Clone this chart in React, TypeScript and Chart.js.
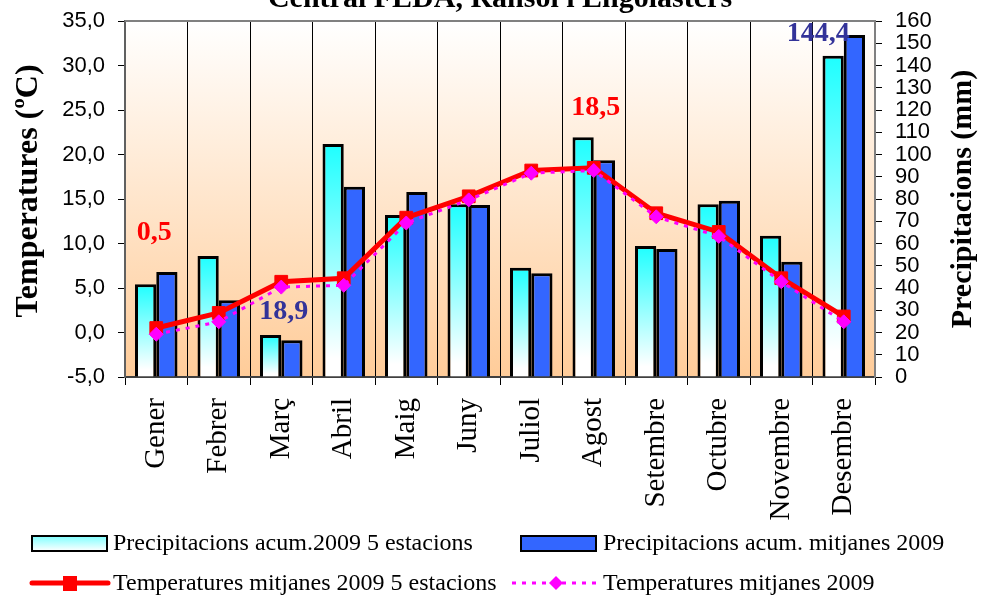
import React, { useEffect, useRef } from 'react';
import { Chart, registerables } from 'chart.js';

Chart.register(...registerables);

const titleText = 'Central FEDA, Ransol i Engolasters';
const leftAxisTitle = 'Temperatures (ºC)';
const rightAxisTitle = 'Precipitacions (mm)';

const months = ['Gener', 'Febrer', 'Març', 'Abril', 'Maig', 'Juny', 'Juliol', 'Agost', 'Setembre', 'Octubre', 'Novembre', 'Desembre'];
const precip5Stations = [41.7, 54.4, 18.9, 104.7, 72.8, 77.6, 49.1, 107.7, 58.9, 77.6, 63.5, 144.4];
const precipMean = [47.2, 34.5, 16.5, 85.5, 83.1, 77.3, 46.6, 97.4, 57.5, 79.2, 51.8, 153.7];
const temp5Stations = [0.5, 2.2, 5.7, 6.1, 12.9, 15.3, 18.2, 18.5, 13.4, 11.3, 6.1, 1.8];
const tempMean = [-0.2, 1.2, 5.1, 5.3, 12.3, 14.9, 17.9, 18.2, 13.0, 10.8, 5.7, 1.2];

const seriesNames = [
  'Precipitacions acum.2009 5 estacions',
  'Precipitacions acum. mitjanes 2009',
  'Temperatures mitjanes 2009 5 estacions',
  'Temperatures mitjanes 2009',
];

const CYAN = '#1EFFFF';
const BLUE = '#3366FF';
const RED = '#FF0000';
const MAGENTA = '#FF00FF';
const SERIF = '"Liberation Serif", "Times New Roman", serif';
const SANS = '"Liberation Sans", Arial, sans-serif';

// annotation labels: which dataset/index, offsets in px
const valueLabels = [
  { ds: 2, idx: 0, dx: -2, dy: -95, color: RED },
  { ds: 0, idx: 2, dx: 13, dy: -23, color: '#333399' },
  { ds: 2, idx: 7, dx: 2, dy: -60, color: RED },
  { ds: 0, idx: 11, dx: -15, dy: -22, color: '#333399' },
];

const fmt = (v: number) => v.toFixed(1).replace('.', ',');

const noPad = (s: any, w: number) => {
  s.width = w;
  s.paddingTop = 0;
  s.paddingBottom = 0;
};

const decorPlugin = {
  id: 'decor',
  beforeDraw(chart: any) {
    const { ctx, chartArea: a } = chart;
    ctx.save();
    ctx.fillStyle = '#FFFFFF';
    ctx.fillRect(0, 0, chart.width, chart.height);
    const g = ctx.createLinearGradient(0, a.top, 0, a.bottom);
    g.addColorStop(0, '#FFFFFF');
    g.addColorStop(1, '#FFCC99');
    ctx.fillStyle = g;
    ctx.fillRect(a.left, a.top, a.right - a.left, a.bottom - a.top);
    ctx.restore();
  },
  afterDatasetsDraw(chart: any) {
    const { ctx } = chart;
    ctx.save();
    ctx.font = `bold 28px ${SERIF}`;
    ctx.textAlign = 'center';
    ctx.textBaseline = 'middle';
    valueLabels.forEach((l) => {
      const el = chart.getDatasetMeta(l.ds).data[l.idx];
      const v = chart.data.datasets[l.ds].data[l.idx] as number;
      ctx.fillStyle = l.color;
      ctx.fillText(fmt(v), el.x + l.dx, el.y + l.dy);
    });
    ctx.restore();
  },
  afterDraw(chart: any) {
    const { ctx, chartArea: a } = chart;
    ctx.save();
    ctx.strokeStyle = '#808080';
    ctx.lineWidth = 2;
    ctx.beginPath();
    ctx.moveTo(a.left, a.top);
    ctx.lineTo(a.right, a.top);
    ctx.stroke();

    ctx.fillStyle = '#000';
    ctx.font = `bold 30px ${SERIF}`;
    ctx.textAlign = 'center';
    ctx.textBaseline = 'alphabetic';
    ctx.fillText(titleText, (a.left + a.right) / 2, 7);

    ctx.textBaseline = 'middle';
    ctx.save();
    ctx.font = `bold 32px ${SERIF}`;
    ctx.translate(29, 191);
    ctx.rotate(-Math.PI / 2);
    ctx.fillText(leftAxisTitle, 0, 0);
    ctx.restore();
    ctx.save();
    ctx.font = `bold 30px ${SERIF}`;
    ctx.translate(963, 199);
    ctx.rotate(-Math.PI / 2);
    ctx.fillText(rightAxisTitle, 0, 0);
    ctx.restore();

    ctx.font = `24px ${SERIF}`;
    ctx.textAlign = 'left';
    ctx.textBaseline = 'middle';
    const r1 = 543;
    const r2 = 583;
    const lg = ctx.createLinearGradient(0, r1 - 7, 0, r1 + 8);
    lg.addColorStop(0, '#7FFFFF');
    lg.addColorStop(1, '#FFFFFF');
    ctx.fillStyle = lg;
    ctx.fillRect(32, r1 - 7, 75, 15);
    ctx.strokeStyle = '#000';
    ctx.lineWidth = 2;
    ctx.strokeRect(32, r1 - 7, 75, 15);
    ctx.fillStyle = '#000';
    ctx.fillText(seriesNames[0], 113, r1 + 1);
    ctx.fillStyle = BLUE;
    ctx.fillRect(521, r1 - 7, 75, 15);
    ctx.strokeRect(521, r1 - 7, 75, 15);
    ctx.fillStyle = '#000';
    ctx.fillText(seriesNames[1], 603, r1 + 1);
    ctx.strokeStyle = RED;
    ctx.lineWidth = 5;
    ctx.lineCap = 'round';
    ctx.beginPath();
    ctx.moveTo(32, r2);
    ctx.lineTo(108, r2);
    ctx.stroke();
    ctx.fillStyle = RED;
    ctx.fillRect(63, r2 - 7, 14, 15);
    ctx.fillStyle = '#000';
    ctx.fillText(seriesNames[2], 113, r2 + 1);
    ctx.strokeStyle = MAGENTA;
    ctx.lineWidth = 3;
    ctx.lineCap = 'butt';
    ctx.setLineDash([4, 6]);
    ctx.beginPath();
    ctx.moveTo(512, r2);
    ctx.lineTo(598, r2);
    ctx.stroke();
    ctx.setLineDash([]);
    ctx.fillStyle = MAGENTA;
    ctx.beginPath();
    ctx.moveTo(556, r2 - 7);
    ctx.lineTo(563, r2);
    ctx.lineTo(556, r2 + 7);
    ctx.lineTo(549, r2);
    ctx.closePath();
    ctx.fill();
    ctx.fillStyle = '#000';
    ctx.fillText(seriesNames[3], 603, r2 + 1);
    ctx.restore();
  },
};

export default function App() {
  const ref = useRef<HTMLCanvasElement>(null);

  useEffect(() => {
    const canvas = ref.current;
    if (!canvas) return;
    const chart = new Chart(canvas, {
      type: 'bar',
      data: {
        labels: months,
        datasets: [
          {
            type: 'bar',
            label: seriesNames[0],
            data: precip5Stations,
            yAxisID: 'y2',
            order: 3,
            borderColor: '#000',
            borderWidth: 3,
            backgroundColor: (c: any) => {
              const chart = c.chart;
              if (!chart.chartArea || c.type !== 'data' || !chart.scales.y2) return CYAN;
              const s = chart.scales.y2;
              const top = s.getPixelForValue(c.raw as number);
              const base = s.getPixelForValue(0);
              if (!isFinite(top) || !isFinite(base) || top === base) return CYAN;
              const g = chart.ctx.createLinearGradient(0, top, 0, base);
              g.addColorStop(0, CYAN);
              g.addColorStop(0.92, '#FFFFFF');
              g.addColorStop(1, '#FFFFFF');
              return g;
            },
            categoryPercentage: 0.68,
            barPercentage: 1,
          } as any,
          {
            type: 'bar',
            label: seriesNames[1],
            data: precipMean,
            yAxisID: 'y2',
            order: 4,
            borderColor: '#000',
            borderWidth: 3,
            backgroundColor: BLUE,
            categoryPercentage: 0.68,
            barPercentage: 1,
          } as any,
          {
            type: 'line',
            label: seriesNames[2],
            data: temp5Stations,
            yAxisID: 'y',
            order: 2,
            borderColor: RED,
            borderWidth: 5,
            backgroundColor: RED,
            pointStyle: 'rect',
            pointRadius: 9,
            pointBorderWidth: 1,
            pointBorderColor: RED,
            pointBackgroundColor: RED,
            tension: 0,
            fill: false,
          } as any,
          {
            type: 'line',
            label: seriesNames[3],
            data: tempMean,
            yAxisID: 'y',
            order: 1,
            borderColor: MAGENTA,
            borderWidth: 3,
            borderDash: [4, 6],
            backgroundColor: MAGENTA,
            pointStyle: 'rectRot',
            pointRadius: 7,
            pointBorderWidth: 1,
            pointBorderColor: MAGENTA,
            pointBackgroundColor: MAGENTA,
            tension: 0,
            fill: false,
          } as any,
        ],
      },
      options: {
        responsive: false,
        animation: false,
        devicePixelRatio: 1,
        layout: { padding: { top: 21, left: 0, right: 0, bottom: 0 } },
        plugins: {
          legend: { display: false },
          title: { display: false },
          tooltip: { enabled: false },
        },
        scales: {
          x: {
            offset: true,
            grid: {
              offset: true,
              color: '#000',
              lineWidth: 1,
              drawOnChartArea: true,
              drawTicks: true,
              tickLength: 8,
            },
            border: { display: true, color: '#404040', width: 2 },
            ticks: {
              autoSkip: false,
              minRotation: 90,
              maxRotation: 90,
              padding: 13,
              color: '#000',
              font: { family: SERIF, size: 29 },
            },
            afterFit: (s: any) => {
              s.height = 220;
              s.paddingLeft = 0;
              s.paddingRight = 0;
            },
          },
          y: {
            position: 'left',
            min: -5,
            max: 35,
            grid: { drawOnChartArea: false, drawTicks: true, tickLength: 7, color: '#000' },
            border: { display: true, color: '#606060', width: 2 },
            ticks: {
              stepSize: 5,
              autoSkip: false,
              padding: 13,
              color: '#000',
              font: { family: SANS, size: 22 },
              callback: (v: any) => fmt(Number(v)),
            },
            afterFit: (s: any) => noPad(s, 125),
          },
          y2: {
            position: 'right',
            min: 0,
            max: 160,
            grid: { drawOnChartArea: false, drawTicks: true, tickLength: 7, color: '#000' },
            border: { display: true, color: '#808080', width: 2 },
            ticks: {
              stepSize: 10,
              autoSkip: false,
              padding: 13,
              color: '#000',
              font: { family: SANS, size: 22 },
            },
            afterFit: (s: any) => noPad(s, 108),
          },
        },
      },
      plugins: [decorPlugin],
    } as any);
    return () => chart.destroy();
  }, []);

  return (
    <div style={{ position: 'fixed', left: 0, top: 0, width: 983, height: 597, background: '#fff' }}>
      <canvas ref={ref} width={983} height={597} style={{ display: 'block', width: 983, height: 597 }} />
    </div>
  );
}
